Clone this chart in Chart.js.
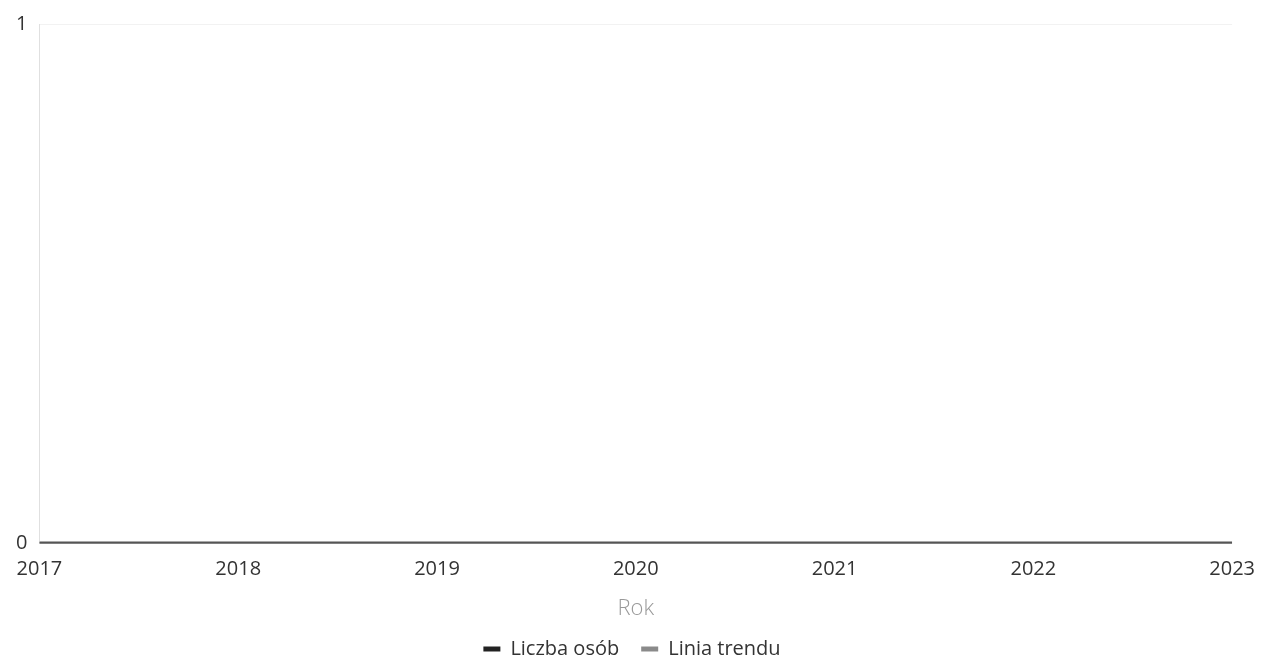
<!DOCTYPE html>
<html><head><meta charset="utf-8">
<script src="https://cdn.jsdelivr.net/npm/chart.js@4/dist/chart.umd.min.js"></script>
<style>html,body{margin:0;padding:0;background:#fff}#wrap{width:1261px;height:665px}</style>
</head><body><div id="wrap"><canvas id="c" width="1261" height="665"></canvas></div>
<script>
const years = [2017, 2018, 2019, 2020, 2021, 2022, 2023];
const liczbaOsob = [0, 0, 0, 0, 0, 0, 0];
const liniaTrendu = [0, 0, 0, 0, 0, 0, 0];
const seriesNames = ['Liczba osób', 'Linia trendu'];
const xTitle = 'Rok';

const font = {family: "'Open Sans', 'Noto Sans', sans-serif", size: 20};
new Chart(document.getElementById('c'), {
  type: 'line',
  data: {
    datasets: [
      {label: seriesNames[0], data: years.map((y,i)=>({x:y,y:liczbaOsob[i]})), borderColor:'#555', backgroundColor:'#222', borderWidth:4, pointRadius:0, tension:0},
      {label: seriesNames[1], data: years.map((y,i)=>({x:y,y:liniaTrendu[i]})), borderColor:'#666', backgroundColor:'#8a8a8a', borderWidth:3, pointRadius:0, tension:0}
    ]
  },
  options: {
    responsive:false, animation:false,
    layout:{padding:{top:0,right:1,left:4,bottom:-4}},
    scales:{
      x:{type:'linear', min:2017, max:2023,
        ticks:{stepSize:1, color:'#333', font, padding:6, callback:v=>String(v)},
        grid:{display:false}, border:{display:false},
        title:{display:true, text:xTitle, color:'#999', font:{family:"'Open Sans', sans-serif", size:22, weight:'300'}, padding:{top:8,bottom:-5}}},
      y:{min:0, max:1,
        ticks:{stepSize:1, color:'#333', font, padding:12},
        grid:{color:'#f2f2f2', drawTicks:false}, border:{display:true, color:'#e0e0e0', width:1}}
    },
    plugins:{
      legend:{position:'bottom', labels:{color:'#333', font, boxWidth:17, boxHeight:5, padding:22,
        generateLabels(chart){
          const items = Chart.defaults.plugins.legend.labels.generateLabels(chart);
          items.forEach(it=>{ it.lineWidth = 0; it.strokeStyle = it.fillStyle; });
          return items;
        }}},
      tooltip:{enabled:false}
    }
  }
});
</script></body></html>
